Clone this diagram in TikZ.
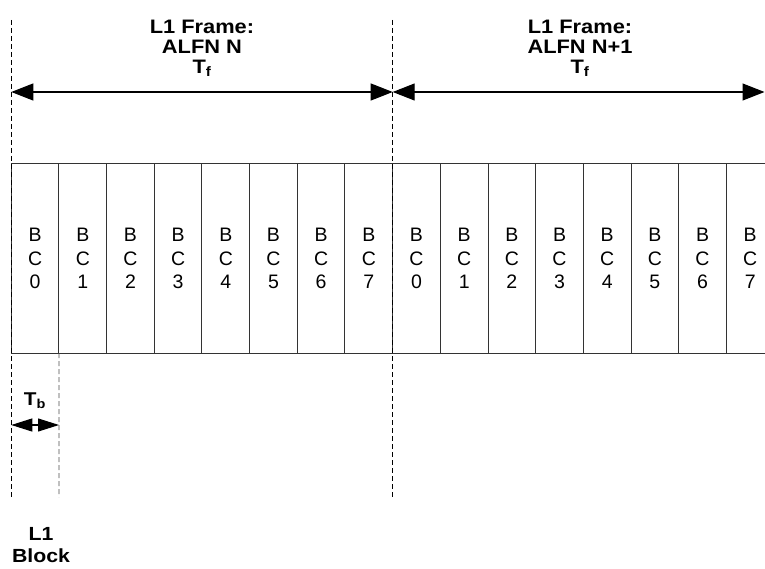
\documentclass[tikz,border=0pt]{standalone}
\usepackage{fontspec}
\setmainfont{Liberation Sans}
\newfontfamily\lblfont[FakeStretch=1.12]{Liberation Sans Bold}
\usetikzlibrary{arrows.meta,calc}
\begin{document}
\begin{tikzpicture}[x=1pt,y=-1pt,
 cell/.style={draw=black!80, line width=1pt, minimum width=47.67pt, minimum height=189pt,
   inner sep=0pt, outer sep=0pt, align=center, font=\fontsize{19.5}{23.5}\selectfont, anchor=north west},
 guide/.style={line width=0.8pt, dash pattern=on 5pt off 3pt},
 dim/.style={line width=1.1pt, {Triangle[length=22pt,width=17pt]}-{Triangle[length=22pt,width=17pt]}},
 smalldim/.style={line width=1.1pt, {Triangle[length=21pt,width=13pt]}-{Triangle[length=21pt,width=13pt]}},
 lbl/.style={font=\lblfont\fontsize{19.5}{20}\selectfont, align=center, inner sep=0pt}]
\useasboundingbox (0,0) rectangle (765,569);
\clip (0,0) rectangle (765,569);
% cells
\foreach \i in {0,...,15}{
  \pgfmathsetmacro\xx{11.3+47.67*\i}
  \pgfmathtruncatemacro\k{mod(\i,8)}
  \node[cell] (c\i) at (\xx,164) {B\\C\\\k};
}
% guide coordinates
\coordinate (g0t) at (11.3,20);
\coordinate (g0b) at (11.3,497);
\coordinate (g8t) at (392.7,20);
\coordinate (g8b) at (392.7,497);
\coordinate (g1b) at (59,497);
\draw[guide] (g0t) -- (g0b);
\draw[guide] (g8t) -- (g8b);
\draw[guide, black!70] (c1.south west) -- (g1b);
% frame arrows
\coordinate (fa0) at (11.3,92);
\coordinate (fa1) at (392.7,92);
\coordinate (fa2) at (764.5,92);
\draw[dim] (fa0) -- (fa1);
\draw[dim] (fa1) -- (fa2);
% block arrow
\coordinate (tb0) at (11.3,425);
\coordinate (tb1) at (59,425);
\draw[smalldim] (tb0) -- (tb1);
% labels
\node[lbl, anchor=north] (lf0) at (202,19.5) {L1 Frame:\\ALFN N\\T\textsubscript{f}};
\node[lbl, anchor=north] (lf1) at (580,19.5) {L1 Frame:\\ALFN N+1\\T\textsubscript{f}};
\node[lbl, anchor=base, font=\lblfont\fontsize{18.5}{20}\selectfont] (ltb) at (35,405.5) {T\textsubscript{b}};
\node[lbl, anchor=north, font=\lblfont\fontsize{19}{22}\selectfont] (lblk) at (41,527) {L1\\Block};
\end{tikzpicture}
\end{document}
